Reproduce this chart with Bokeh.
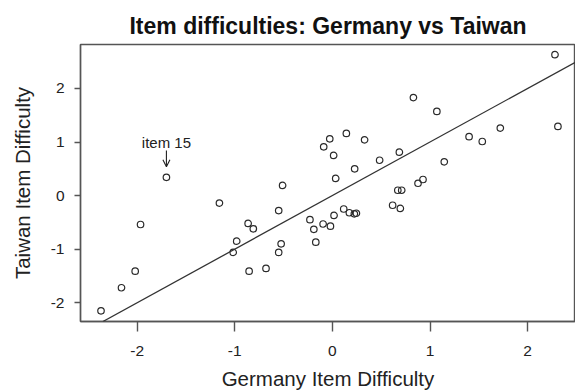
from bokeh.plotting import figure
from bokeh.models import FixedTicker, Slope, Label, Arrow, OpenHead, Range1d
from bokeh.embed import file_html
from bokeh.resources import INLINE

# ---- data ----
chart_title = "Item difficulties: Germany vs Taiwan"
x_label = "Germany Item Difficulty"
y_label = "Taiwan Item Difficulty"

germany = [-1.70, -1.157, -1.965, -0.98, -1.016, -2.02, -2.16, -2.37, -0.853, -0.68,
           -0.863, -0.81, -0.51, -0.55, -0.525, -0.55, -0.23, -0.19, -0.17, 0.143,
           -0.027, -0.089, 0.013, 0.228, 0.034, -0.095, -0.02, 0.017, 0.116, 0.174,
           0.225, 0.246, 2.28, 2.31, 0.83, 1.07, 1.72, 1.40, 1.535, 1.146,
           0.686, 0.484, 0.33, 0.67, 0.71, 0.877, 0.928, 0.617, 0.696]
taiwan = [0.34, -0.14, -0.54, -0.85, -1.06, -1.41, -1.72, -2.15, -1.41, -1.36,
          -0.52, -0.62, 0.19, -0.28, -0.90, -1.06, -0.45, -0.63, -0.87, 1.16,
          1.06, 0.91, 0.75, 0.50, 0.32, -0.53, -0.57, -0.37, -0.25, -0.32,
          -0.34, -0.33, 2.63, 1.29, 1.83, 1.57, 1.26, 1.10, 1.01, 0.63,
          0.81, 0.66, 1.04, 0.10, 0.10, 0.23, 0.30, -0.18, -0.24]

tick_values = [-2, -1, 0, 1, 2]
tick_labels = ["-2", "-1", "0", "1", "2"]

line_slope = 1.0
line_intercept = 0.0

annot_index = 0
annot_text = "item 15"

# ---- figure ----
FONT = "Liberation Sans"
AX = "#555555"

p = figure(width=575, height=392, output_backend="svg", toolbar_location=None,
           x_range=Range1d(-2.58, 2.49), y_range=Range1d(-2.35, 2.82),
           min_border_left=80, min_border_right=0, min_border_top=44,
           min_border_bottom=71)
p.background_fill_color = "white"
p.border_fill_color = "white"
p.outline_line_color = AX
p.outline_line_width = 1.4
p.grid.visible = False

p.title.text = chart_title
p.title.align = "center"
p.title.text_font = FONT
p.title.text_font_size = "23px"
p.title.text_font_style = "bold"
p.title.text_color = "#111111"
p.title.standoff = 12

for ax in (p.xaxis[0], p.yaxis[0]):
    ax.ticker = FixedTicker(ticks=tick_values)
    ax.major_label_overrides = {v: s for v, s in zip(tick_values, tick_labels)}
    ax.minor_tick_line_color = None
    ax.axis_line_color = AX
    ax.axis_line_width = 1.4
    ax.major_tick_line_color = AX
    ax.major_tick_line_width = 1.4
    ax.major_tick_in = 0
    ax.major_label_text_font = FONT
    ax.major_label_text_font_size = "15.5px"
    ax.major_label_text_color = "#222222"
    ax.axis_label_text_font = FONT
    ax.axis_label_text_font_size = "20.5px"
    ax.axis_label_text_font_style = "normal"
    ax.axis_label_text_color = "#222222"

p.xaxis.axis_label = x_label
p.yaxis.axis_label = y_label
p.xaxis.major_tick_out = 10
p.xaxis.major_label_standoff = 14
p.xaxis.axis_label_standoff = 8
p.yaxis.major_tick_out = 6
p.yaxis.major_label_standoff = 10
p.yaxis.axis_label_standoff = 14

p.add_layout(Slope(gradient=line_slope, y_intercept=line_intercept,
                   line_color="#333333", line_width=1.3))

p.scatter(germany, taiwan, marker="circle", size=6.5, fill_color=None,
          line_color="#2a2a2a", line_width=1.2)

ax0 = germany[annot_index]
ay0 = taiwan[annot_index]
p.add_layout(Arrow(end=OpenHead(size=7, line_width=1.1, line_color="#222222"),
                   x_start=ax0, y_start=ay0 + 0.5, x_end=ax0, y_end=ay0 + 0.2,
                   line_color="#222222", line_width=1.1))
p.add_layout(Label(x=ax0, y=ay0 + 0.66, text=annot_text, text_align="center",
                   text_baseline="middle", text_font=FONT, text_font_size="15px",
                   text_color="#222222"))

open("out.html", "w").write(file_html(p, INLINE))
